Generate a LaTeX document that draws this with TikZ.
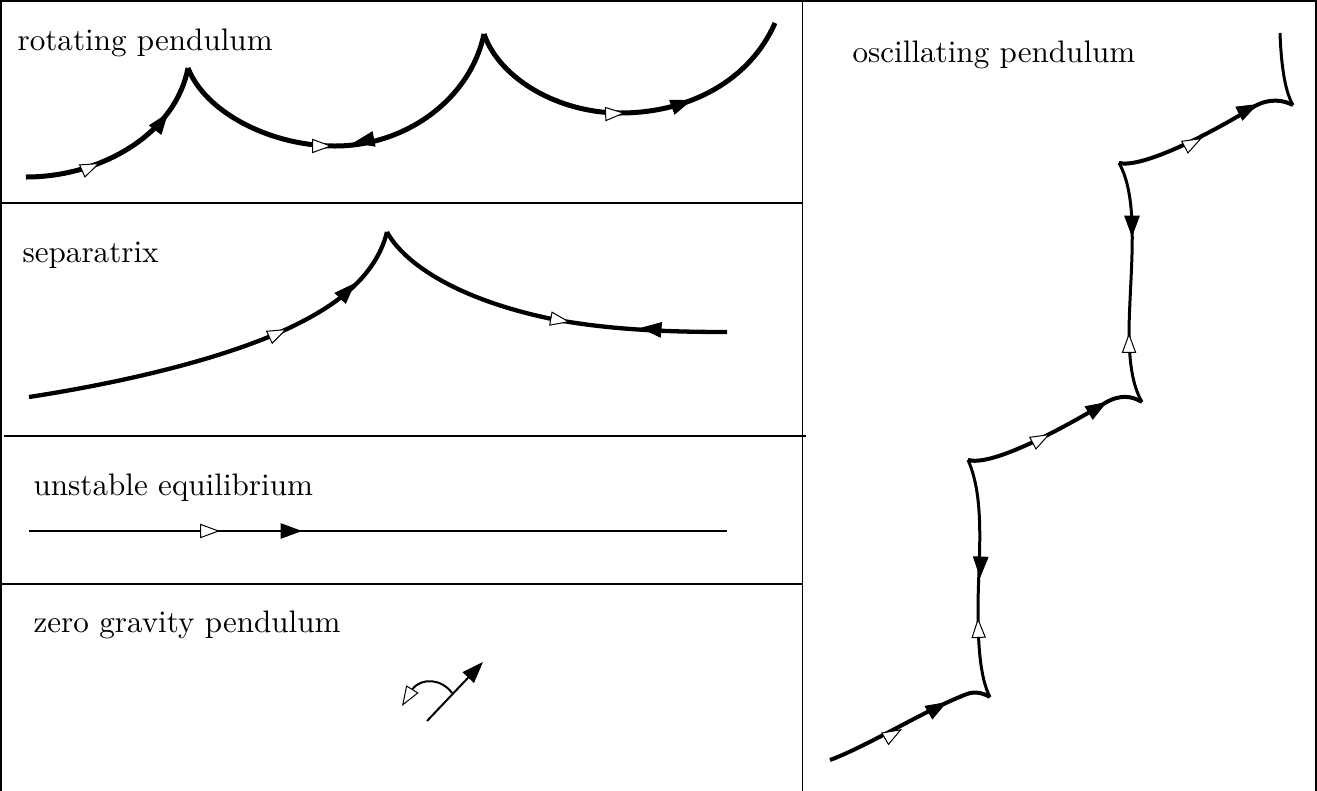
\documentclass[tikz,border=0pt]{standalone}
\usetikzlibrary{arrows.meta}
\newlength\pxu \setlength\pxu{0.3215pt}
% draw an arrow tip at point #2, pointing at angle #3, shaft length #4 (hidden under the tip)
\newcommand\tipat[4]{\draw[#1] (#2) ++(#3+180:#4) -- (#2);}
\begin{document}
\begin{tikzpicture}[x=0.3215pt, y=-0.3215pt,
  frame/.style={line width=1.2\pxu, line cap=rect},
  lbl/.style={anchor=base west, inner sep=0pt, font=\fontsize{10}{12}\selectfont},
  rot/.style={line width=5\pxu},
  sep/.style={line width=4.3\pxu},
  osc/.style={line width=4\pxu},
  oscv/.style={line width=3\pxu},
  thin/.style={line width=2\pxu},
  openarr/.style={-{Triangle[length=6.4pt, width=4.6pt, fill=white, line width=0.32pt]}},
  fillarr/.style={-{Triangle[length=6.9pt, width=5pt, line width=0.32pt]}},
]
\useasboundingbox (0,0) rectangle (1317,790);

% frames
\draw[frame] (1,790) -- (1,1) -- (1316,1) -- (1316,790);
\draw[frame] (802.5,1) -- (802.5,790);
\draw[frame] (1,203) -- (802.5,203);
\draw[frame] (5,436) -- (805,436);
\draw[frame] (1,584) -- (802.5,584);

% labels
\node[lbl] (lrot) at (17,50) {rotating pendulum};
\node[lbl] (lsep) at (22,262) {separatrix};
\node[lbl] (lune) at (33,495) {unstable equilibrium};
\node[lbl] (lzero) at (33,632) {zero gravity pendulum};
\node[lbl] (losc) at (852,62) {oscillating pendulum};

% rotating pendulum
\draw[rot] (26,177) .. controls (100,177) and (175,135) .. (188,68);
\draw[rot] (188,68) .. controls (205,112) and (270,146) .. (335,146)
                    .. controls (405,146) and (470,100) .. (484,34);
\draw[rot] (484,34) .. controls (500,80) and (560,113) .. (620,113)
                    .. controls (690,113) and (750,80) .. (775,23);
\tipat{rot, openarr}{100,163}{-24}{18.5}
\tipat{rot, fillarr}{168,113}{-53}{20}
\tipat{rot, openarr}{332,146}{0}{18.5}
\tipat{rot, fillarr}{353,143}{169}{20}
\tipat{rot, openarr}{625,113}{-3}{18.5}
\tipat{rot, fillarr}{692,100}{-20}{20}

% separatrix
\draw[sep] (29,397) .. controls (120,383) and (220,360) .. (287,329)
                    .. controls (330,309) and (375,280) .. (387,232);
\draw[sep] (387,232) .. controls (405,265) and (460,300) .. (552,319)
                     .. controls (610,330) and (670,332) .. (727,332);
\tipat{sep, openarr}{287,329}{-25}{18.5}
\tipat{sep, fillarr}{355,283}{-46}{20}
\tipat{sep, openarr}{570,322}{10}{18.5}
\tipat{sep, fillarr}{640,328}{185}{20}

% unstable equilibrium
\draw[thin] (29,531) -- (727,531);
\tipat{thin, openarr}{220,531}{0}{18.5}
\tipat{thin, fillarr}{302,531}{0}{20}

% zero gravity pendulum
\draw[thin, fillarr] (427,721) -- (483,662);
\draw[thin, openarr] (452,693) .. controls (442,679) and (422,677) .. (412.5,689) -- (402,706);

% oscillating pendulum
\draw[osc] (830,760) .. controls (870,745) and (925,710) .. (967,694)
                     .. controls (975,691) and (983,693) .. (990,697);
\draw[oscv] (990,697) .. controls (981,680) and (978,650) .. (978,610)
                      .. controls (978,560) and (986,500) .. (968,460);
\draw[osc] (968,460) .. controls (990,466) and (1050,436) .. (1105,403)
                     .. controls (1120,394) and (1132,396) .. (1142,402);
\draw[oscv] (1142,402) .. controls (1132,385) and (1129,360) .. (1129,330)
                       .. controls (1130,270) and (1140,200) .. (1119,163);
\draw[osc] (1119,163) .. controls (1140,168) and (1200,140) .. (1255,106)
                      .. controls (1270,98) and (1283,100) .. (1293,105);
\draw[oscv] (1293,105) .. controls (1284,90) and (1281,60) .. (1280,33);
\tipat{osc, openarr}{902,729}{-30}{18.5}
\tipat{osc, fillarr}{947,702}{-30}{20}
\tipat{oscv, fillarr}{980,578}{92}{20}
\tipat{oscv, openarr}{978,618}{-92}{18.5}
\tipat{osc, openarr}{1050,434}{-28}{18.5}
\tipat{osc, fillarr}{1107,402}{-31}{20}
\tipat{oscv, fillarr}{1132,237}{90}{20}
\tipat{oscv, openarr}{1129,333}{-90}{18.5}
\tipat{osc, openarr}{1202,138}{-28}{18.5}
\tipat{osc, fillarr}{1258,104}{-27}{20}
\end{tikzpicture}
\end{document}
